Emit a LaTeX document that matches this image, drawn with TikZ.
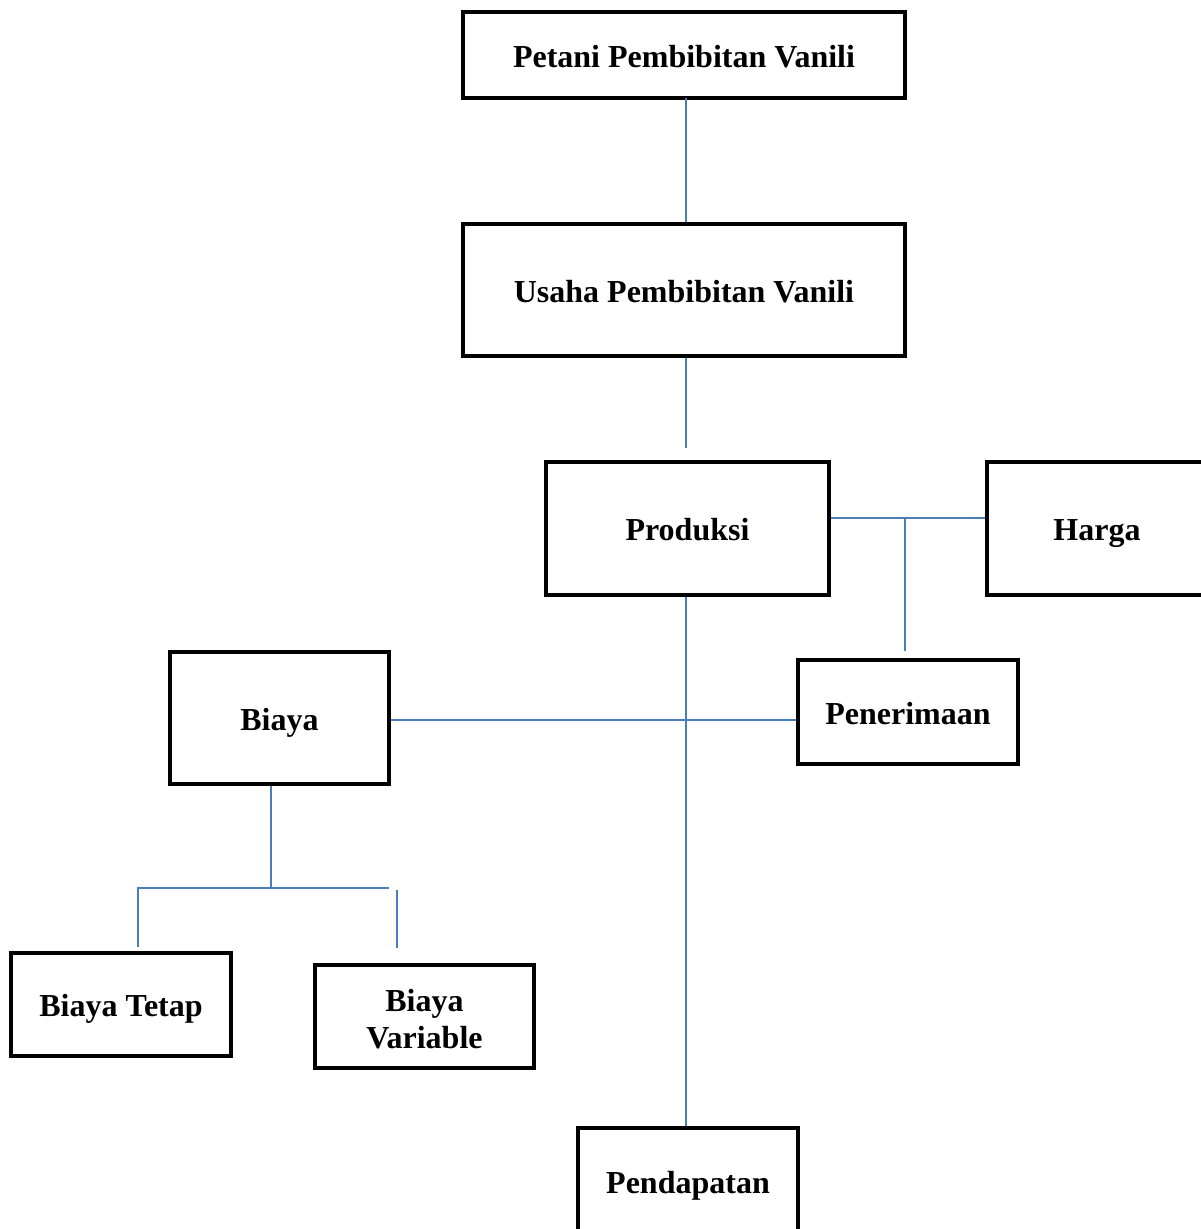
\documentclass[tikz,border=0pt]{standalone}
\usepackage{fontspec}
\setmainfont{Liberation Serif}
\definecolor{conncol}{RGB}{74,126,187}
\tikzset{
  boxbase/.style={draw=black, line width=3pt, rectangle, inner sep=0pt, align=center,
    font=\bfseries\fontsize{24}{27.75}\selectfont},
  box/.style={boxbase, text height=21.6pt, text depth=2.9pt},
  conn/.style={draw=conncol, line width=1.4pt},
}
\begin{document}
\begin{tikzpicture}[x=0.75pt,y=-0.75pt]
\useasboundingbox (0,0) rectangle (1201,1229);
\clip (0,0) rectangle (1201,1229);
\node[box, minimum width=442*0.75pt, minimum height=86*0.75pt] (petani) at (684,55) {Petani Pembibitan Vanili};
\node[box, minimum width=442*0.75pt, minimum height=132*0.75pt] (usaha) at (684,290) {Usaha Pembibitan Vanili};
\node[box, minimum width=283*0.75pt, minimum height=133*0.75pt] (produksi) at (687.5,528.5) {Produksi};
\node[box, minimum width=220*0.75pt, minimum height=133*0.75pt] (harga) at (1097,528.5) {Harga};
\node[box, minimum width=220*0.75pt, minimum height=104*0.75pt] (penerimaan) at (908,712) {Penerimaan};
\node[box, minimum width=219*0.75pt, minimum height=132*0.75pt] (biaya) at (279.5,718) {Biaya};
\node[box, minimum width=220*0.75pt, minimum height=103*0.75pt] (tetap) at (121,1004.5) {Biaya Tetap};
\node[boxbase, minimum width=219*0.75pt, minimum height=103*0.75pt] (variable) at (424.5,1016.5) {};
\node[font=\bfseries\fontsize{24}{27.75}\selectfont, align=center, inner sep=0pt] (variabletext) at (424.5,1019.5) {Biaya\\Variable};
\node[box, minimum width=220*0.75pt, minimum height=106*0.75pt] (pendapatan) at (688,1181) {Pendapatan};

\coordinate (uend) at (686,448);
\coordinate (pj) at (905,518);
\coordinate (pend) at (905,651);
\coordinate (bx) at (686,720);
\coordinate (bt) at (271,888);
\coordinate (btl) at (138,888);
\coordinate (btr) at (389,888);
\coordinate (tend) at (138,947);
\coordinate (vtop) at (397,890);
\coordinate (vend) at (397,948);

\draw[conn] (686,98) -- (usaha.north -| 686,0);
\draw[conn] (usaha.south -| uend) -- (uend);
\draw[conn] (produksi.east |- pj) -- (harga.west |- pj);
\draw[conn] (pj) -- (pend);
\draw[conn] (biaya.east |- bx) -- (penerimaan.west |- bx);
\draw[conn] (produksi.south -| bx) -- (pendapatan.north -| bx);
\draw[conn] (biaya.south -| bt) -- (bt);
\draw[conn] (tend) -- (btl) -- (btr);
\draw[conn] (vtop) -- (vend);
\end{tikzpicture}
\end{document}
